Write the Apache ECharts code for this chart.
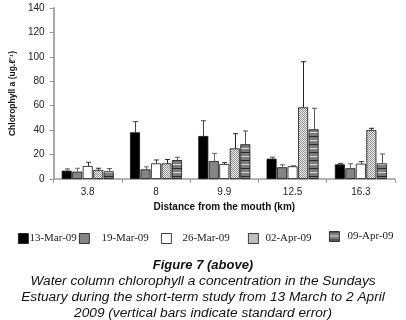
<!DOCTYPE html>
<html>
<head>
<meta charset="utf-8">
<script src="https://cdn.jsdelivr.net/npm/echarts@6/dist/echarts.min.js"></script>
<style>
html,body{margin:0;padding:0;background:#fff;}
#chart{width:406px;height:320px;}
</style>
</head>
<body>
<div id="chart"></div>
<script>
// ---- data ----
var categories = ['3.8', '8', '9.9', '12.5', '16.3'];
var seriesNames = ['13-Mar-09', '19-Mar-09', '26-Mar-09', '02-Apr-09', '09-Apr-09'];
var mar13 = [6.8, 38.2, 35.2, 16.6, 12.0];
var mar19 = [6.0, 7.9, 14.7, 9.6, 8.8];
var mar26 = [10.6, 12.8, 12.3, 10.4, 12.5];
var apr02 = [7.4, 12.8, 25.1, 58.7, 40.1];
var apr09 = [6.3, 15.5, 28.4, 40.7, 12.8];
var se13 = [1.4, 8.8, 12.5, 1.2, 0.8];
var se19 = [2.8, 2.1, 6.3, 2.1, 3.7];
var se26 = [3.1, 2.8, 1.1, 0.3, 1.7];
var se02 = [1.4, 3.2, 12.0, 37.3, 1.4];
var se09 = [2.2, 2.3, 10.9, 17.2, 7.7];
var yTicks = [0, 20, 40, 60, 80, 100, 120, 140];

var values = [mar13, mar19, mar26, apr02, apr09];
var errors = [se13, se19, se26, se02, se09];

// ---- patterns ----
function checker() {
  var c = document.createElement('canvas'); c.width = 2; c.height = 2;
  var g = c.getContext('2d');
  g.fillStyle = '#f4f4f4'; g.fillRect(0, 0, 2, 2);
  g.fillStyle = '#8a8a8a'; g.fillRect(0, 0, 1, 1); g.fillRect(1, 1, 1, 1);
  return { image: c, repeat: 'repeat' };
}
function stripes() {
  var c = document.createElement('canvas'); c.width = 4; c.height = 8;
  var g = c.getContext('2d');
  g.fillStyle = '#7d7d7d'; g.fillRect(0, 0, 4, 8);
  g.fillStyle = '#2a2a2a'; g.fillRect(0, 0, 4, 1);
  g.fillStyle = '#d8d8d8'; g.fillRect(0, 4, 4, 1);
  return { image: c, repeat: 'repeat' };
}
var fills = ['#000000', '#858585', '#ffffff', checker(), stripes()];
var errColors = ['#444', '#666', '#333', '#222', '#555'];

var BAR_W = 10, BAR_GAP = 0.5;
var n = seriesNames.length;
var total = n * BAR_W + (n - 1) * BAR_GAP;

var series = [];
values.forEach(function (vals, si) {
  series.push({
    name: seriesNames[si],
    type: 'bar',
    data: vals,
    barWidth: BAR_W,
    barGap: '5%',
    itemStyle: { color: fills[si], borderColor: '#111', borderWidth: 0.8 },
    z: 2
  });
});
values.forEach(function (vals, si) {
  var data = vals.map(function (v, i) { return [i, v, v + errors[si][i]]; });
  series.push({
    type: 'custom',
    name: seriesNames[si] + '-err',
    data: data,
    z: 3,
    silent: true,
    encode: { x: 0, y: [1, 2] },
    renderItem: function (params, api) {
      var ci = api.value(0);
      var base = api.coord([ci, api.value(1)]);
      var top = api.coord([ci, api.value(2)]);
      var x = base[0] - total / 2 + BAR_W / 2 + si * (BAR_W + BAR_GAP);
      x = Math.round(x) + 0.5;
      var st = { stroke: errColors[si], lineWidth: 1 };
      return {
        type: 'group',
        children: [
          { type: 'line', shape: { x1: x, y1: base[1], x2: x, y2: top[1] }, style: st },
          { type: 'line', shape: { x1: x - 2.5, y1: top[1], x2: x + 2.5, y2: top[1] }, style: st }
        ]
      };
    }
  });
});

var legendLeft = [18, 79, 161, 248, 329];
var legendTop = [233, 233, 233, 233, 231];
var legendPad = [-4, 7, 6, 2, 3];
var legends = seriesNames.map(function (nm, i) {
  return {
    data: [nm],
    left: legendLeft[i],
    top: legendTop[i],
    orient: 'horizontal',
    icon: 'rect',
    itemWidth: 10,
    itemHeight: 10,
    selectedMode: false,
    padding: 0,
    itemStyle: { borderColor: '#111', borderWidth: 0.8 },
    textStyle: {
      fontFamily: 'Liberation Serif, Times New Roman, serif',
      fontSize: 11,
      color: '#222',
      padding: [0, 0, 0, legendPad[i]]
    }
  };
});

var captionLines = [
  'Water column chlorophyll a concentration in the Sundays',
  'Estuary during the short-term study from 13 March to 2 April',
  '2009 (vertical bars indicate standard error)'
];
var capY = [280, 296, 312];
var graphics = [{
  type: 'text', left: 'center', top: 259,
  style: { text: 'Figure 7 (above)', font: 'italic bold 13px "Liberation Sans", Arial, sans-serif', fill: '#111' }
}];
captionLines.forEach(function (t, i) {
  graphics.push({
    type: 'text', left: 'center', top: capY[i] - 6,
    style: { text: t, font: 'italic 13.7px "Liberation Sans", Arial, sans-serif', fill: '#111' }
  });
});

var chart = echarts.init(document.getElementById('chart'), null, { renderer: 'canvas' });
chart.setOption({
  animation: false,
  backgroundColor: '#fff',
  grid: { left: 52, right: 11, top: 8, bottom: 141, containLabel: false },
  legend: legends,
  xAxis: {
    type: 'category',
    data: categories,
    name: 'Distance from the mouth (km)',
    nameLocation: 'middle',
    nameGap: 23,
    nameTextStyle: { fontFamily: 'Liberation Sans, Arial, sans-serif', fontWeight: 'bold', fontSize: 10, color: '#111' },
    axisLine: { lineStyle: { color: '#9a9a9a', width: 1.5 } },
    axisTick: { show: true, length: 4, alignWithLabel: false, lineStyle: { color: '#9a9a9a' } },
    axisLabel: { fontFamily: 'Liberation Sans, Arial, sans-serif', fontSize: 10, color: '#222', margin: 8 }
  },
  yAxis: {
    type: 'value',
    min: yTicks[0],
    max: yTicks[yTicks.length - 1],
    interval: yTicks[1] - yTicks[0],
    name: 'Chlorophyll a (ug.ℓ⁻¹)',
    nameLocation: 'middle',
    nameGap: 27,
    nameTextStyle: { fontFamily: 'Liberation Sans, Arial, sans-serif', fontWeight: 'bold', fontSize: 8.5, color: '#111' },
    axisLine: { show: true, lineStyle: { color: '#a8a8a8', width: 2 } },
    axisTick: { show: true, length: 4, lineStyle: { color: '#9a9a9a' } },
    splitLine: { show: false },
    axisLabel: { fontFamily: 'Liberation Sans, Arial, sans-serif', fontSize: 10, color: '#222', margin: 9 }
  },
  graphic: graphics,
  series: series
});
</script>
</body>
</html>
